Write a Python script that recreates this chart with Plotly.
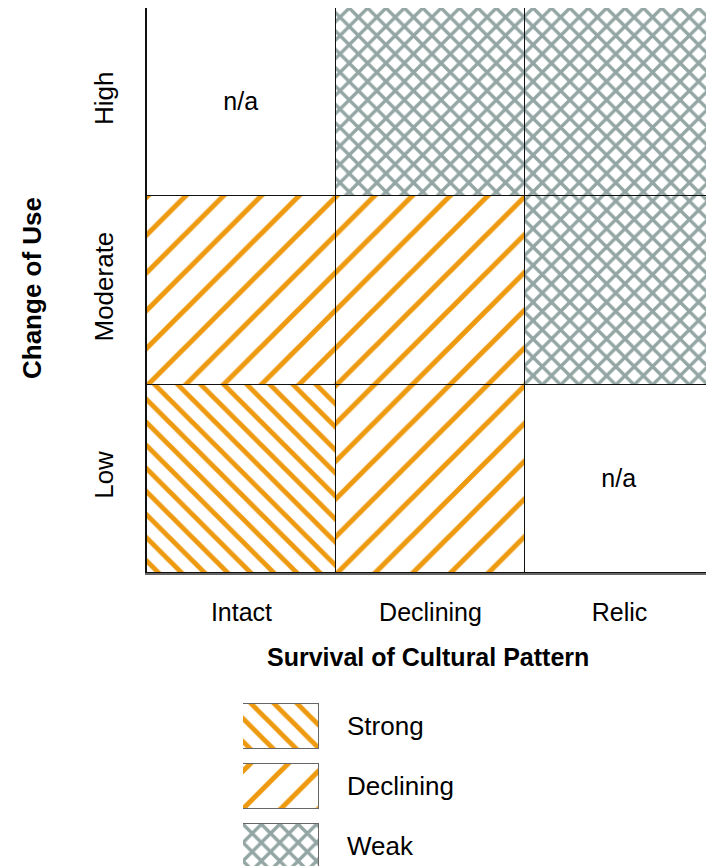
import plotly.graph_objects as go

# ---- data ----
survival = ["Intact", "Declining", "Relic"]          # x categories
change_of_use = ["Low", "Moderate", "High"]           # y rows (bottom -> top)
cell_class = {
    "Low":      ["Strong", "Declining", "n/a"],
    "Moderate": ["Declining", "Declining", "Weak"],
    "High":     ["n/a", "Weak", "Weak"],
}
legend_classes = ["Weak", "Declining", "Strong"]       # bottom -> top
unit = 1

# ---- styles ----
ORANGE = "#EE9A10"
GRAY = "#93A6A4"
STYLE = {
    "Strong":    dict(shape="\\", size=16.3, solidity=0.30, fg=ORANGE),
    "Declining": dict(shape="/",  size=26.7, solidity=0.19, fg=ORANGE),
    "Weak":      dict(shape="x",  size=13.0, solidity=0.45, fg=GRAY),
    "n/a":       dict(shape="",   size=8,    solidity=0.3,  fg="black"),
}
FONT = "Liberation Sans, Arial, Helvetica, sans-serif"
W, H = 706, 866


def px(x):
    return x / W


def py(y):
    return 1 - y / H


def pattern_for(classes):
    return dict(
        shape=[STYLE[c]["shape"] for c in classes],
        size=[STYLE[c]["size"] for c in classes],
        solidity=[STYLE[c]["solidity"] for c in classes],
        fgcolor=[STYLE[c]["fg"] for c in classes],
        fgopacity=1,
        bgcolor="white",
        fillmode="overlay",
    )


fig = go.Figure()

for row in change_of_use:
    cls = cell_class[row]
    fig.add_trace(go.Bar(
        x=survival,
        y=[unit] * len(survival),
        name=row,
        marker=dict(
            color="white",
            line=dict(color="#111111", width=1.5),
            pattern=pattern_for(cls),
        ),
        text=[c if c == "n/a" else "" for c in cls],
        textposition="inside",
        insidetextanchor="middle",
        textangle=0,
        constraintext="none",
        textfont=dict(family=FONT, size=25, color="black"),
        showlegend=False,
        hoverinfo="skip",
        xaxis="x", yaxis="y",
    ))

# legend swatches
fig.add_trace(go.Bar(
    y=legend_classes,
    x=[unit] * len(legend_classes),
    orientation="h",
    width=0.75,
    marker=dict(
        color="white",
        line=dict(color="#666666", width=1),
        pattern=pattern_for(legend_classes),
    ),
    showlegend=False,
    hoverinfo="skip",
    xaxis="x2", yaxis="y2",
))

legend_top = 695.5
fig.update_layout(
    width=W, height=H,
    margin=dict(l=0, r=0, t=0, b=0),
    paper_bgcolor="white",
    plot_bgcolor="white",
    barmode="stack",
    bargap=0,
    font=dict(family=FONT, size=25, color="black"),
    xaxis=dict(
        domain=[px(147), 1],
        anchor="y",
        range=[-0.5, 2.5 - 8 / 189],
        showgrid=False, zeroline=False,
        showline=True, linecolor="#666666", linewidth=2,
        ticks="", ticklabelstandoff=16,
        tickfont=dict(size=25),
        fixedrange=True,
    ),
    yaxis=dict(
        domain=[py(573), py(8)],
        anchor="x",
        range=[0, 3],
        tickvals=[0.5, 1.5, 2.5],
        ticktext=change_of_use,
        tickangle=-90,
        showgrid=False, zeroline=False,
        showline=True, linecolor="#111111", linewidth=1.5,
        ticks="", ticklabelstandoff=22,
        tickfont=dict(size=26),
        fixedrange=True,
    ),
    xaxis2=dict(
        domain=[px(243), px(319)],
        anchor="y2",
        range=[0, 1],
        visible=False,
        fixedrange=True,
    ),
    yaxis2=dict(
        domain=[0, py(legend_top)],
        anchor="x2",
        type="category",
        categoryorder="array",
        categoryarray=legend_classes,
        range=[2.5 - (866 - legend_top) / 60, 2.5],
        side="right",
        showgrid=False, zeroline=False, showline=False,
        ticks="", ticklabelstandoff=27,
        tickfont=dict(size=26),
        fixedrange=True,
    ),
    annotations=[
        dict(text="<b>Survival of Cultural Pattern</b>", x=px(428), y=py(657),
             xref="paper", yref="paper", showarrow=False,
             font=dict(size=25), xanchor="center", yanchor="middle"),
        dict(text="<b>Change of Use</b>", x=px(32), y=py(288),
             xref="paper", yref="paper", showarrow=False, textangle=-90,
             font=dict(size=26), xanchor="center", yanchor="middle"),
    ],
)

fig.write_html(
    "out.html",
    config={"displayModeBar": False},
    post_script="document.body.style.margin='0';document.body.style.overflow='hidden';",
)
